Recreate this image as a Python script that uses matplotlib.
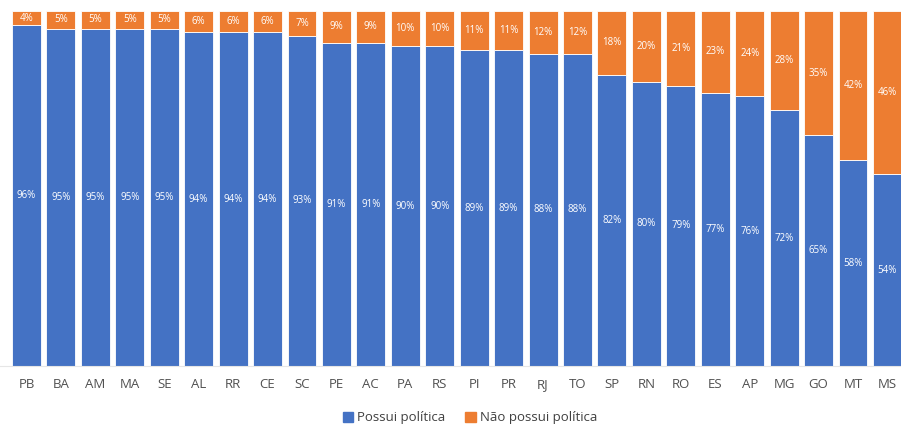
import matplotlib
matplotlib.use('Agg')
import matplotlib.pyplot as plt
from matplotlib.patches import Patch

plt.rcParams['font.family'] = ['Open Sans', 'DejaVu Sans']

estados = ['PB', 'BA', 'AM', 'MA', 'SE', 'AL', 'RR', 'CE', 'SC', 'PE', 'AC', 'PA', 'RS',
           'PI', 'PR', 'RJ', 'TO', 'SP', 'RN', 'RO', 'ES', 'AP', 'MG', 'GO', 'MT', 'MS']
possui = [96, 95, 95, 95, 95, 94, 94, 94, 93, 91, 91, 90, 90,
          89, 89, 88, 88, 82, 80, 79, 77, 76, 72, 65, 58, 54]
nao_possui = [4, 5, 5, 5, 5, 6, 6, 6, 7, 9, 9, 10, 10,
              11, 11, 12, 12, 18, 20, 21, 23, 24, 28, 35, 42, 46]

azul = '#4472C4'
laranja = '#ED7D31'

fig = plt.figure(figsize=(9.01, 4.26), dpi=100)
ax = fig.add_axes([0, 60 / 426, 1, 355 / 426])

x = list(range(len(estados)))
larg = 0.84
ax.bar(x, possui, width=larg, color=azul, edgecolor='white', linewidth=0.6)
ax.bar(x, nao_possui, width=larg, bottom=possui, color=laranja,
       edgecolor='white', linewidth=0.6)

# rotulos dentro das barras
for i in x:
    ax.text(i, possui[i] / 2, '%d%%' % possui[i], ha='center', va='center',
            color='white', fontsize=7)
    ax.text(i, possui[i] + nao_possui[i] / 2, '%d%%' % nao_possui[i], ha='center',
            va='center', color='white', fontsize=7)

ax.set_xlim(-0.42 - 12 / 34.44, -0.42 + 889 / 34.44)
ax.set_ylim(0, 100)
ax.set_xticks(x)
ax.set_xticklabels(estados, fontsize=9.5, color='#505050')
ax.tick_params(axis='x', length=0, pad=9)
ax.set_yticks([])
for s in ['top', 'right', 'left']:
    ax.spines[s].set_visible(False)
ax.spines['bottom'].set_color('#E6E6E6')

handles = [Patch(color=azul, label='Possui política'),
           Patch(color=laranja, label='Não possui política')]
fig.legend(handles=handles, loc='center', bbox_to_anchor=(470 / 901, 1 - 418 / 426),
           ncol=2, frameon=False, fontsize=9.5, handlelength=0.8, handleheight=0.8,
           handletextpad=0.3, columnspacing=1.5, labelcolor='#404040')

fig.savefig('out.png', dpi=100)
